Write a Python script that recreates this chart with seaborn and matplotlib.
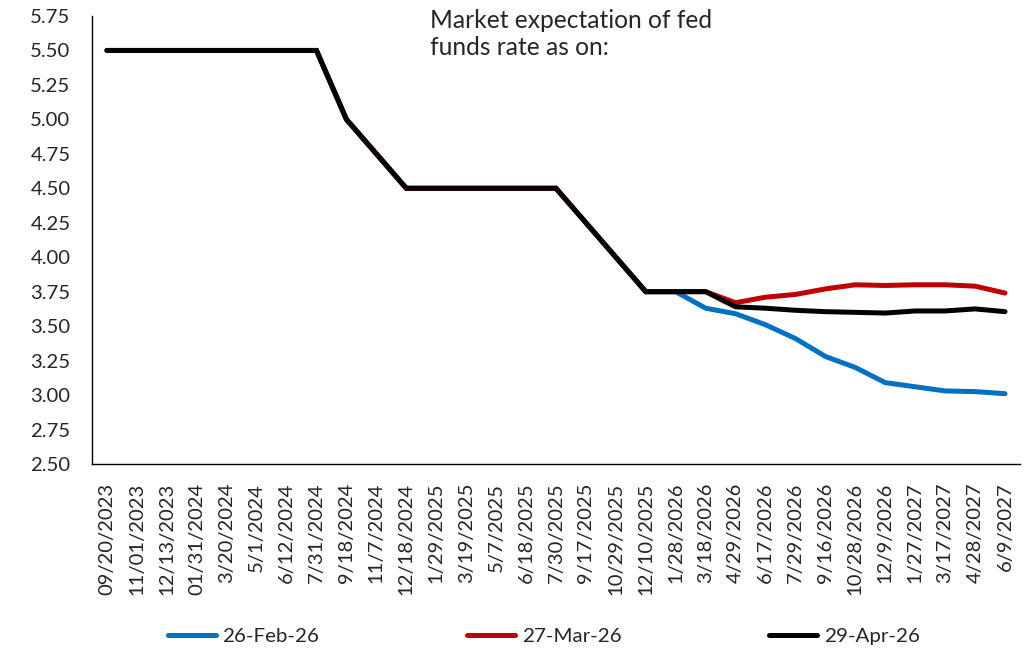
import matplotlib
matplotlib.use("Agg")
import matplotlib.pyplot as plt
import seaborn as sns
import pandas as pd
import numpy as np

dates = ["09/20/2023", "11/01/2023", "12/13/2023", "01/31/2024", "3/20/2024", "5/1/2024",
         "6/12/2024", "7/31/2024", "9/18/2024", "11/7/2024", "12/18/2024", "1/29/2025",
         "3/19/2025", "5/7/2025", "6/18/2025", "7/30/2025", "9/17/2025", "10/29/2025",
         "12/10/2025", "1/28/2026", "3/18/2026", "4/29/2026", "6/17/2026", "7/29/2026",
         "9/16/2026", "10/28/2026", "12/9/2026", "1/27/2027", "3/17/2027", "4/28/2027",
         "6/9/2027"]

history = [5.50, 5.50, 5.50, 5.50, 5.50, 5.50, 5.50, 5.50, 5.00, 4.75, 4.50, 4.50,
           4.50, 4.50, 4.50, 4.50, 4.25, 4.00, 3.75, 3.75]

feb26 = history + [3.63, 3.59, 3.51, 3.41, 3.28, 3.20, 3.09, 3.06, 3.03, 3.025, 3.01]
mar26 = history + [3.75, 3.67, 3.71, 3.73, 3.77, 3.80, 3.795, 3.80, 3.80, 3.79, 3.74]
apr26 = history + [3.75, 3.64, 3.63, 3.615, 3.605, 3.60, 3.595, 3.61, 3.61, 3.625, 3.605]

series_names = ["26-Feb-26", "27-Mar-26", "29-Apr-26"]
series_colors = ["#0070C0", "#C00000", "#000000"]

frames = []
for name, vals in zip(series_names, [feb26, mar26, apr26]):
    frames.append(pd.DataFrame({"idx": np.arange(len(dates)), "rate": vals, "series": name}))
df = pd.concat(frames, ignore_index=True)

sns.set_style("white")
plt.rcParams["font.family"] = ["Lato", "DejaVu Sans"]

fig = plt.figure(figsize=(10.31, 6.48), dpi=100)
renderer = fig.canvas.get_renderer()


def fit_size(text, target_px, base=10.0):
    t = fig.text(0, 0, text, fontsize=base)
    w = t.get_window_extent(renderer=renderer).width
    t.remove()
    return base * target_px / w


tick_fs = fit_size("09/20/2023", 112)
title_fs = fit_size("Market expectation of fed", 283)
leg_fs = fit_size("26-Feb-26", 97)
leg_px = leg_fs * 100 / 72

ax = fig.add_axes([0.0892, 0.284, 0.9001, 0.6913])

sns.lineplot(data=df, x="idx", y="rate", hue="series", hue_order=series_names,
             palette=series_colors, linewidth=3.6, ax=ax, legend=False,
             solid_capstyle="round", solid_joinstyle="miter")

yt = np.arange(2.5, 5.76, 0.25)
ax.set_xlim(-0.5, len(dates) - 0.5)
ax.set_ylim(2.5, 5.75)
ax.set_yticks(yt)
ax.set_yticklabels([f"{v:.2f}" for v in yt], fontsize=tick_fs)

ax.set_xticks(np.arange(-0.5, len(dates), 1.0))
ax.set_xticklabels([])
ax.set_xticks(np.arange(len(dates)), minor=True)
ax.set_xticklabels(dates, minor=True, rotation=90, fontsize=tick_fs)
ax.tick_params(axis="x", which="major", direction="out", length=5, width=1, color="black")
ax.tick_params(axis="x", which="minor", length=0, pad=13.5)
ax.tick_params(axis="y", direction="out", length=5, width=1, color="black", pad=10.5)
ax.set_xlabel("")
ax.set_ylabel("")

for side in ["top", "right"]:
    ax.spines[side].set_visible(False)
for side in ["left", "bottom"]:
    ax.spines[side].set_color("black")
    ax.spines[side].set_linewidth(1)

fig.text(430 / 1031, 1 - 28 / 648, "Market expectation of fed", ha="left", va="baseline",
         fontsize=title_fs)
fig.text(430 / 1031, 1 - 55 / 648, "funds rate as on:", ha="left", va="baseline",
         fontsize=title_fs)

handles = [plt.Line2D([0], [0], color=c, linewidth=3.6, solid_capstyle="round") for c in series_colors]
fig.legend(handles, series_names, loc="center left", bbox_to_anchor=(167.5 / 1031, 1 - 636 / 648),
           ncol=3, frameon=False, fontsize=leg_fs, handlelength=48 / leg_px,
           handletextpad=7.0 / leg_px, columnspacing=147.5 / leg_px, borderpad=0,
           borderaxespad=0)

fig.savefig("out.png", dpi=100)
